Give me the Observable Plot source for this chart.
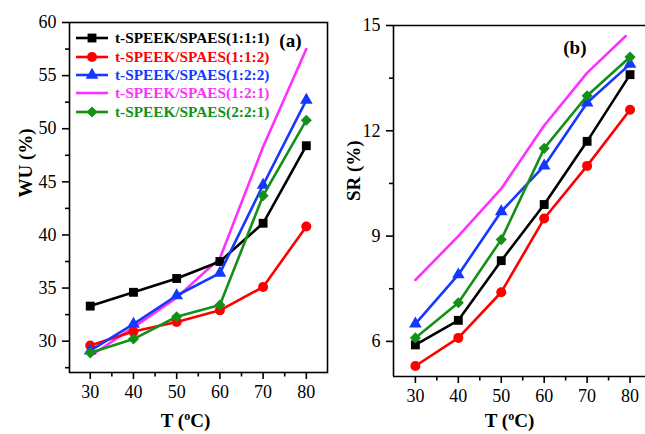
<!DOCTYPE html>
<html>
<head>
<meta charset="utf-8">
<script src="https://cdn.jsdelivr.net/npm/d3@7"></script>
<script src="https://cdn.jsdelivr.net/npm/@observablehq/plot@0.6"></script>
<style>
  html, body { margin: 0; padding: 0; background: #fff; }
  #wrap { position: relative; width: 645px; height: 434px; overflow: hidden; background: #fff;
          font-family: "Liberation Serif", "Times New Roman", serif; }
  #pa { position: absolute; left: 0; top: 0; }
  #pb { position: absolute; left: 330px; top: 0; }
  #legend { position: absolute; left: 76px; top: 29px; }
  .lrow { display: flex; align-items: center; height: 18.4px; }
  .lrow span { margin-left: 7px; font-weight: bold; font-size: 15.3px; line-height: 18px; white-space: nowrap; }
</style>
</head>
<body>
<div id="wrap">
  <div id="pa"></div>
  <div id="pb"></div>
  <div id="legend"></div>
</div>
<script>
// ---------- data ----------
const temps = [30, 40, 50, 60, 70, 80];
const tempsSR121 = [30, 40, 50, 60, 70, 79];

const seriesNames = [
  "t-SPEEK/SPAES(1:1:1)",
  "t-SPEEK/SPAES(1:1:2)",
  "t-SPEEK/SPAES(1:2:2)",
  "t-SPEEK/SPAES(1:2:1)",
  "t-SPEEK/SPAES(2:2:1)"
];
const seriesColors = ["#000000", "#ff0000", "#1438ff", "#ff30ff", "#139016"];
const seriesSymbols = ["square", "circle", "triangle", null, "diamond2"];
const seriesR = [5, 5, 4.7, 0, 5];

// (a) water uptake WU (%)
const wu111 = [33.3, 34.6, 35.9, 37.5, 41.1, 48.4];
const wu112 = [29.6, 30.9, 31.8, 32.9, 35.1, 40.8];
const wu122 = [29.1, 31.6, 34.3, 36.4, 44.7, 52.7];
const wu121 = [28.6, 31.3, 34.1, 37.8, 48.3, 57.5];
const wu221 = [28.9, 30.2, 32.3, 33.4, 43.7, 50.8];

// (b) swelling ratio SR (%)
const sr111 = [5.9, 6.6, 8.3, 9.9, 11.7, 13.6];
const sr112 = [5.3, 6.1, 7.4, 9.5, 11.0, 12.6];
const sr122 = [6.5, 7.9, 9.7, 11.0, 12.8, 13.9];
const sr121 = [7.75, 9.0, 10.35, 12.15, 13.65, 14.7];
const sr221 = [6.1, 7.1, 8.9, 11.5, 13.0, 14.1];

// ticks
const xTicks = [30, 40, 50, 60, 70, 80];
const xMinorTicks = [35, 45, 55, 65, 75];
const wuTicks = [30, 35, 40, 45, 50, 55, 60];
const wuMinorTicks = [27.5, 32.5, 37.5, 42.5, 47.5, 52.5, 57.5];
const srTicks = [6, 9, 12, 15];
const srMinorTicks = [7.5, 10.5, 13.5];

// ---------- helpers ----------
function rows(xs, ys) { return xs.map((x, i) => ({T: x, v: ys[i]})); }

const wuSeries = [rows(temps, wu111), rows(temps, wu112), rows(temps, wu122), rows(temps, wu121), rows(temps, wu221)];
const srSeries = [rows(temps, sr111), rows(temps, sr112), rows(temps, sr122), rows(tempsSR121, sr121), rows(temps, sr221)];
const drawOrder = [3, 0, 1, 2, 4];

const FONT = '"Liberation Serif", "Times New Roman", serif';

function panel(o) {
  const marks = [];
  for (const k of drawOrder) {
    const d = o.series[k];
    marks.push(Plot.line(d, {x: "T", y: "v", stroke: seriesColors[k], strokeWidth: 2.6}));
    if (seriesSymbols[k]) {
      marks.push(Plot.dot(d, {x: "T", y: "v", symbol: seriesSymbols[k], r: seriesR[k], fill: seriesColors[k], stroke: "none"}));
    }
  }
  if (o.fullFrame) {
    marks.push(Plot.frame({stroke: "black", strokeWidth: 1.6}));
  } else {
    marks.push(Plot.ruleY([o.yDomain[1]], {stroke: "black", strokeWidth: 1.6}));
    marks.push(Plot.ruleY([o.yDomain[0]], {stroke: "black", strokeWidth: 1.6}));
    marks.push(Plot.ruleX([o.xDomain[0]], {stroke: "black", strokeWidth: 1.6}));
  }
  marks.push(Plot.axisX(xTicks, {tickSize: 7, tickPadding: 6, fontSize: 18, label: null, strokeWidth: 1.6}));
  marks.push(Plot.axisX(xMinorTicks, {tickSize: 4.5, tickFormat: () => "", label: null, strokeWidth: 1.6}));
  marks.push(Plot.axisY(o.yTicks, {tickSize: 7, tickPadding: 6, fontSize: 18, label: null, strokeWidth: 1.6}));
  marks.push(Plot.axisY(o.yMinor, {tickSize: 4, tickFormat: () => "", label: null, strokeWidth: 1.6}));
  marks.push(Plot.text([o.yLabel], {text: d => d, frameAnchor: "left", dx: o.yLabelDx, rotate: -90, fontSize: 19, fontWeight: "bold", fill: "black"}));
  marks.push(Plot.text([o.xLabel], {text: d => d, frameAnchor: "bottom", dx: o.xLabelDx, dy: o.xLabelDy, fontSize: 19, fontWeight: "bold", fill: "black"}));
  marks.push(Plot.text([o.tag], {text: d => d, frameAnchor: "top-right", dx: o.tagDx, dy: o.tagDy, fontSize: 19, fontWeight: "bold", fill: "black"}));

  const svg = Plot.plot({
    width: o.width, height: 434,
    marginLeft: o.mL, marginTop: o.mT, marginRight: o.mR, marginBottom: o.mB,
    x: {domain: o.xDomain},
    y: {domain: o.yDomain},
    style: {fontFamily: FONT, color: "black", background: "transparent", overflow: "visible"},
    marks
  });
  // superscript "o" in the temperature label
  d3.select(svg).selectAll("text").filter(function() { return this.textContent === o.xLabel; })
    .each(function() {
      const t = d3.select(this);
      t.text(null);
      t.append("tspan").text("T (");
      t.append("tspan").attr("font-size", 12).attr("dy", -7).text("o");
      t.append("tspan").attr("font-size", 19).attr("dy", 7).text("C)");
    });
  return svg;
}

document.getElementById("pa").appendChild(panel({
  series: wuSeries, width: 330, mL: 69, mT: 22, mR: 3, mB: 62,
  xDomain: [25.2, 84.9], yDomain: [27.05, 60],
  yTicks: wuTicks, yMinor: wuMinorTicks, fullFrame: true,
  yLabel: "WU (%)", yLabelDx: -44, xLabel: "T (oC)", xLabelDx: -13, xLabelDy: 54,
  tag: "(a)", tagDx: -26, tagDy: 11
}));

document.getElementById("pb").appendChild(panel({
  series: srSeries, width: 315, mL: 63, mT: 25, mR: 0, mB: 58,
  xDomain: [24.9, 83.6], yDomain: [5, 15],
  yTicks: srTicks, yMinor: srMinorTicks, fullFrame: false,
  yLabel: "SR (%)", yLabelDx: -40, xLabel: "T (oC)", xLabelDx: -10, xLabelDy: 50,
  tag: "(b)", tagDx: -59, tagDy: 15
}));

// legend (panel a, inside the plot)
const legend = d3.select("#legend");
seriesNames.forEach((name, k) => {
  const row = legend.append("div").attr("class", "lrow");
  const sw = row.append("svg").attr("width", 32).attr("height", 18);
  sw.append("line").attr("x1", 0).attr("x2", 32).attr("y1", 9).attr("y2", 9)
    .attr("stroke", seriesColors[k]).attr("stroke-width", 2.6);
  if (seriesSymbols[k]) {
    const typeMap = {square: d3.symbolSquare, circle: d3.symbolCircle, triangle: d3.symbolTriangle, diamond2: d3.symbolDiamond2};
    sw.append("path").attr("transform", "translate(16,9)")
      .attr("d", d3.symbol(typeMap[seriesSymbols[k]], Math.PI * seriesR[k] * seriesR[k])())
      .attr("fill", seriesColors[k]);
  }
  row.append("span").style("color", seriesColors[k]).text(name);
});
</script>
</body>
</html>
